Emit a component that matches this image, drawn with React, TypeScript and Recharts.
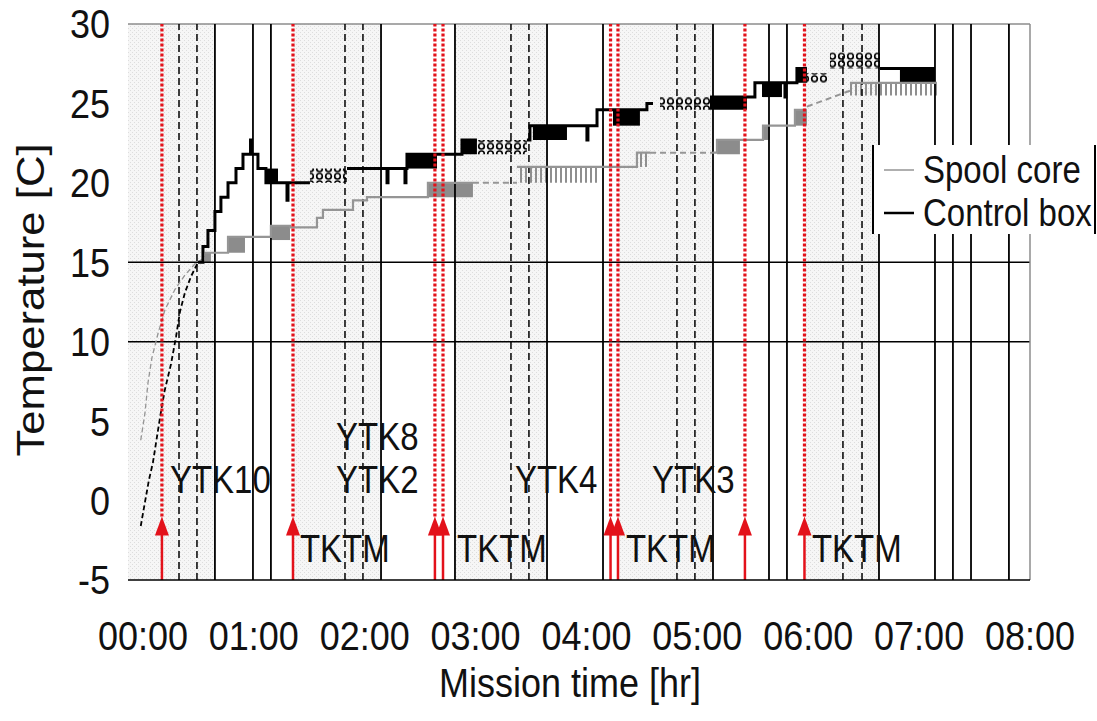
import React from 'react';
import {
  ComposedChart,
  Line,
  XAxis,
  YAxis,
  ReferenceLine,
  ReferenceArea,
  ReferenceDot,
  Legend,
} from 'recharts';

const FONT = '"Liberation Sans", Arial, Helvetica, sans-serif';
const INK = '#111111';
const RED = '#e3121b';
const GREY_LINE = '#959595';
const GREY_BLOCK = '#8c8c8c';
const STRETCH = 1.15;

type Pt = [number, number | null];
type Band = [number, number, number, number]; // start h, end h, low C, high C

// ---- axes ----
const hourTicks = [0, 1, 2, 3, 4, 5, 6, 7, 8];
const tempTicks = [-5, 0, 5, 10, 15, 20, 25, 30];
const limitTemps = [10, 15];

// ---- mission timeline (hours) ----
const shadedWindows: [number, number][] = [
  [-0.135, 0.649],
  [1.353, 2.147],
  [2.814, 3.644],
  [4.284, 5.141],
  [5.966, 6.638],
];
const solidMarks = [0.649, 0.992, 1.154, 2.147, 2.814, 3.644, 4.149, 5.141, 5.646, 5.808, 6.638, 7.143, 7.305, 7.468, 7.81];
const dashedMarks = [0.325, 0.487, 1.822, 1.984, 3.319, 3.481, 4.816, 4.978, 6.313, 6.485];
const commandTimes = [0.171, 1.353, 2.633, 2.706, 4.217, 4.284, 5.429, 5.966];

const notes: { t: number; c: number; text: string }[] = [
  { t: 0.243, c: 1.3, text: 'YTK10' },
  { t: 1.741, c: 4.0, text: 'YTK8' },
  { t: 1.741, c: 1.3, text: 'YTK2' },
  { t: 3.355, c: 1.3, text: 'YTK4' },
  { t: 4.591, c: 1.3, text: 'YTK3' },
  { t: 1.416, c: -3.05, text: 'TKTM' },
  { t: 2.832, c: -3.05, text: 'TKTM' },
  { t: 4.356, c: -3.05, text: 'TKTM' },
  { t: 6.033, c: -3.05, text: 'TKTM' },
];

// ---- Control box temperature ----
const controlRise: Pt[] = [
  [-0.02, -1.6], [0.0, -0.8], [0.054, 1.3], [0.09, 2.4], [0.135, 4.4], [0.165, 5.7],
  [0.195, 6.9], [0.253, 8.6], [0.298, 10.3], [0.334, 11.9], [0.379, 13.1], [0.433, 14.1], [0.496, 15.0],
];
const controlMain: Pt[] = [
  [0.496, 15.0], [0.541, 16.0], [0.586, 17.0], [0.649, 18.2], [0.703, 19.1], [0.767, 20.0],
  [0.839, 20.9], [0.902, 21.8], [0.97, 22.7], [0.979, 21.8], [1.037, 20.9], [1.109, 20.0],
  [1.299, 18.9], [1.308, 20.0], [1.506, 20.0], [1.506, null],
  [1.84, 20.9], [2.201, 20.0], [2.21, 20.9], [2.363, 20.0], [2.372, 20.9], [2.381, 21.8],
  [2.877, 22.7], [3.012, 22.7], [3.012, null],
  [3.463, 22.7], [3.49, 23.6], [4.004, 22.7], [4.013, 23.6], [4.095, 24.6], [4.545, 25.0],
  [4.6, 25.0], [4.6, null],
  [5.114, 25.4], [5.519, 26.3], [5.79, 25.4], [5.799, 26.3], [5.898, 27.2], [5.988, 27.2], [5.988, null],
  [6.647, 27.2], [7.143, 27.2],
];
const controlBlocks: Band[] = [
  [1.109, 1.218, 20.0, 20.9],
  [2.381, 2.652, 20.9, 21.8],
  [2.877, 3.012, 21.8, 22.7],
  [3.517, 3.824, 22.7, 23.6],
  [4.239, 4.482, 23.6, 24.6],
  [5.114, 5.447, 24.6, 25.4],
  [5.583, 5.763, 25.4, 26.3],
  [5.898, 5.988, 26.3, 27.2],
  [6.827, 7.143, 26.3, 27.2],
];
const controlToggles: Band[] = [
  [1.506, 1.84, 20.0, 20.9],
  [3.012, 3.463, 21.8, 22.7],
  [4.663, 5.114, 24.6, 25.4],
  [5.988, 6.169, 26.3, 26.9],
  [6.196, 6.647, 27.2, 28.2],
];

// ---- Spool core temperature ----
const spoolRise: Pt[] = [
  [-0.02, 3.8], [0.018, 5.5], [0.045, 7.4], [0.081, 9.0], [0.135, 10.5], [0.198, 12.0],
  [0.289, 13.3], [0.379, 14.2], [0.469, 14.9], [0.559, 15.3],
];
const spoolMain: Pt[] = [
  [0.559, 15.6], [0.767, 16.6], [1.154, 17.3], [1.326, 17.2], [1.569, 17.8], [1.623, 18.3],
  [1.894, 18.9], [2.02, 19.1], [2.57, 20.0], [2.976, 20.0], [2.976, null],
  [3.373, 21.0], [4.455, 21.9], [4.573, 21.9], [4.573, null],
  [5.141, 21.9], [5.177, 22.7], [5.592, 23.6], [5.88, 24.6], [5.988, 24.6], [5.988, null],
  [6.376, 26.3], [7.161, 26.3],
];
const spoolSparse: Pt[] = [
  [2.976, 20.0], [3.373, 20.0], [3.373, null],
  [4.573, 21.9], [5.141, 21.9], [5.141, null],
  [5.988, 24.8], [6.223, 25.4], [6.376, 25.8],
];
const spoolBlocks: Band[] = [
  [0.559, 0.613, 15.0, 15.6],
  [0.767, 0.92, 15.6, 16.6],
  [1.154, 1.326, 16.4, 17.3],
  [2.57, 2.976, 19.1, 20.0],
  [5.177, 5.384, 21.8, 22.7],
  [5.583, 5.655, 22.7, 23.6],
  [5.88, 5.988, 23.6, 24.6],
];
const spoolToggles: Band[] = [
  [3.373, 4.122, 20.0, 21.0],
  [4.455, 4.573, 21.0, 21.9],
  [6.376, 7.161, 25.5, 26.3],
];

const legendItems = [
  { name: 'Spool core', color: GREY_LINE, width: 1.5 },
  { name: 'Control box', color: '#000000', width: 2.5 },
];

const toRows = (pts: Pt[]) => pts.map(([t, v]) => ({ t, v }));
const fmtHour = (h: number) => `${String(h).padStart(2, '0')}:00`;

function StretchText({ x, y, size, anchor = 'start', rotate = 0, children }: any) {
  const tf = `translate(${x},${y}) scale(1,${STRETCH})` + (rotate ? ` rotate(${rotate})` : '');
  return (
    <g transform={tf}>
      <text
        x={0}
        y={0}
        textAnchor={anchor}
        dominantBaseline="central"
        fontFamily={FONT}
        fontSize={size}
        fill={INK}
      >
        {children}
      </text>
    </g>
  );
}

const HourTick = (p: any) => (
  <StretchText x={p.x} y={p.y} size={36} anchor="middle">
    {fmtHour(p.payload.value)}
  </StretchText>
);

const TempTick = (p: any) => (
  <StretchText x={p.x} y={p.y} size={36} anchor="end">
    {p.payload.value}
  </StretchText>
);

const XTitle = () => (
  <StretchText x={570} y={683} size={36} anchor="middle">
    Mission time [hr]
  </StretchText>
);

const YTitle = () => (
  <StretchText x={31} y={300} size={38} anchor="middle" rotate={-90}>
    Temperature [C]
  </StretchText>
);

const ArrowShape = (p: any) => {
  const x = p.x1;
  const base = Math.max(p.y1, p.y2);
  const tip = Math.min(p.y1, p.y2);
  return (
    <g>
      <line x1={x} y1={base} x2={x} y2={tip + 10} stroke={RED} strokeWidth={2.5} />
      <polygon points={`${x},${tip} ${x - 7},${tip + 19} ${x + 7},${tip + 19}`} fill={RED} />
    </g>
  );
};

const noteShape = (text: string) => (p: any) => (
  <StretchText x={p.cx} y={p.cy} size={33}>
    {text}
  </StretchText>
);

function LegendBox() {
  return (
    <div
      style={{
        position: 'relative',
        width: 224,
        height: 89,
        background: '#ffffff',
        borderLeft: '2px solid #000',
        borderRight: '2px solid #000',
        boxSizing: 'border-box',
      }}
    >
      {legendItems.map((it, i) => (
        <div key={it.name} style={{ position: 'absolute', left: 9, top: 25 + i * 43, height: 0 }}>
          <svg width={32} height={6} style={{ position: 'absolute', left: 0, top: -3 }}>
            <line x1={1} y1={3} x2={31} y2={3} stroke={it.color} strokeWidth={it.width} />
          </svg>
          <span
            style={{
              position: 'absolute',
              left: 40,
              top: 0,
              transform: `translateY(-50%) scaleY(${STRETCH})`,
              fontFamily: FONT,
              fontSize: 33,
              color: INK,
              whiteSpace: 'nowrap',
              lineHeight: 1,
            }}
          >
            {it.name}
          </span>
        </div>
      ))}
    </div>
  );
}

export default function App() {
  return (
    <div style={{ position: 'absolute', left: 0, top: 0, width: 1097, height: 721, background: '#fff' }}>
      <ComposedChart width={1097} height={721} margin={{ top: 24, right: 67, bottom: 0, left: 0 }}>
        <defs>
          <pattern id="hatch" width="4" height="4" patternUnits="userSpaceOnUse">
            <rect width="4" height="4" fill="#eeeeee" fillOpacity="0.55" />
            <rect x="0" y="0" width="1" height="1" fill="#dddddd" />
            <rect x="2" y="2" width="1" height="1" fill="#dddddd" />
          </pattern>
          <pattern id="rings" width="9" height="7.5" patternUnits="userSpaceOnUse">
            <circle cx="4.5" cy="3.75" r="2.8" fill="none" stroke="#000" strokeWidth="1.6" />
          </pattern>
          <pattern id="stripes" width="5" height="5" patternUnits="userSpaceOnUse">
            <rect x="0" y="0" width="2" height="5" fill="#8f8f8f" />
          </pattern>
        </defs>

        <XAxis
          type="number"
          dataKey="t"
          domain={[-0.135, 8]}
          ticks={hourTicks}
          interval={0}
          allowDataOverflow
          tick={<HourTick />}
          tickLine={false}
          tickSize={0}
          tickMargin={56}
          axisLine={{ stroke: '#000', strokeWidth: 1.5 }}
          height={141}
          label={<XTitle />}
        />
        <YAxis
          type="number"
          domain={[-5, 30]}
          ticks={tempTicks}
          interval={0}
          allowDataOverflow
          tick={<TempTick />}
          tickLine={false}
          tickSize={0}
          tickMargin={18}
          axisLine={false}
          width={128}
          label={<YTitle />}
        />

        {shadedWindows.map(([a, b], i) => (
          <ReferenceArea key={`sh${i}`} x1={a} x2={b} y1={-5} y2={30} fill="url(#hatch)" fillOpacity={1} stroke="none" />
        ))}

        {limitTemps.map((c) => (
          <ReferenceLine key={`lim${c}`} y={c} stroke="#000" strokeWidth={1.5} />
        ))}
        <ReferenceLine y={30} stroke="#8c8c8c" strokeWidth={1.5} />
        <ReferenceLine x={8} stroke="#8c8c8c" strokeWidth={1.5} />

        {solidMarks.map((t) => (
          <ReferenceLine key={`s${t}`} x={t} stroke="#000" strokeWidth={1.8} />
        ))}
        {dashedMarks.map((t) => (
          <ReferenceLine key={`d${t}`} x={t} stroke="#000" strokeWidth={1.5} strokeDasharray="7 4" />
        ))}

        {spoolBlocks.map(([a, b, lo, hi], i) => (
          <ReferenceArea key={`sb${i}`} x1={a} x2={b} y1={lo} y2={hi} fill={GREY_BLOCK} fillOpacity={1} stroke="none" />
        ))}
        {spoolToggles.map(([a, b, lo, hi], i) => (
          <ReferenceArea key={`st${i}`} x1={a} x2={b} y1={lo} y2={hi} fill="url(#stripes)" fillOpacity={1} stroke="none" />
        ))}
        {controlBlocks.map(([a, b, lo, hi], i) => (
          <ReferenceArea key={`cb${i}`} x1={a} x2={b} y1={lo} y2={hi} fill="#000" fillOpacity={1} stroke="none" />
        ))}
        {controlToggles.map(([a, b, lo, hi], i) => (
          <ReferenceArea key={`ct${i}`} x1={a} x2={b} y1={lo} y2={hi} fill="url(#rings)" fillOpacity={1} stroke="none" />
        ))}

        <Line data={toRows(spoolSparse)} dataKey="v" type="linear" stroke={GREY_LINE} strokeWidth={2} strokeDasharray="6 4" dot={false} activeDot={false} isAnimationActive={false} />
        <Line data={toRows(spoolRise)} dataKey="v" type="linear" stroke={GREY_LINE} strokeWidth={1.3} strokeDasharray="5 3" dot={false} activeDot={false} isAnimationActive={false} />
        <Line data={toRows(spoolMain)} dataKey="v" type="stepAfter" stroke={GREY_LINE} strokeWidth={2.2} dot={false} activeDot={false} isAnimationActive={false} />
        <Line data={toRows(controlRise)} dataKey="v" type="linear" stroke="#000" strokeWidth={1.8} strokeDasharray="5 3" dot={false} activeDot={false} isAnimationActive={false} />
        <Line data={toRows(controlMain)} dataKey="v" type="stepAfter" stroke="#000" strokeWidth={3} dot={false} activeDot={false} isAnimationActive={false} />

        {commandTimes.map((t) => (
          <ReferenceLine
            key={`r${t}`}
            segment={[{ x: t, y: -1 }, { x: t, y: 30 }]}
            stroke={RED}
            strokeWidth={3.2}
            strokeDasharray="3 2"
          />
        ))}
        {commandTimes.map((t) => (
          <ReferenceLine key={`a${t}`} segment={[{ x: t, y: -5 }, { x: t, y: -1 }]} stroke={RED} shape={ArrowShape} />
        ))}

        {notes.map((n, i) => (
          <ReferenceDot key={`n${i}`} x={n.t} y={n.c} r={0} shape={noteShape(n.text)} />
        ))}

        <Legend
          layout="horizontal"
          verticalAlign="middle"
          align="center"
          content={() => <LegendBox />}
          wrapperStyle={{ left: 872, top: 145, width: 224, height: 89 }}
        />
      </ComposedChart>
    </div>
  );
}
